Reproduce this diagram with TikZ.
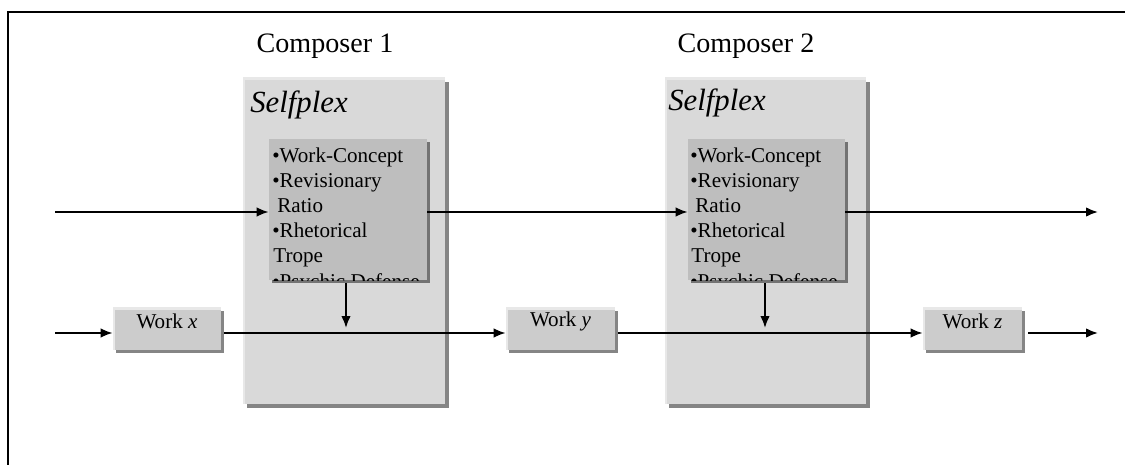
\documentclass[tikz,border=0pt]{standalone}
\usepackage{fontspec}
\setmainfont{Liberation Serif}
\usetikzlibrary{shadows,fit,arrows.meta}
\definecolor{outerfill}{HTML}{D9D9D9}
\definecolor{innerfill}{HTML}{BEBEBE}
\definecolor{workfill}{HTML}{CCCCCC}
\definecolor{shadowgray}{HTML}{858585}
\definecolor{innershadow}{HTML}{737373}
\definecolor{hilite}{HTML}{E8E8E8}
\begin{document}
\begin{tikzpicture}[x=0.02cm,y=-0.02cm,
  hl/.style={path picture={\draw[hilite,line width=2.4pt]
      (path picture bounding box.south west) -- (path picture bounding box.north west)
      -- (path picture bounding box.north east);}},
  outerbox/.style={fill=outerfill, inner sep=0pt, hl,
      drop shadow={shadow xshift=2pt, shadow yshift=-2pt, fill=shadowgray, opacity=1}},
  innerbox/.style={fill=innerfill, inner sep=0pt,
      drop shadow={shadow xshift=1.7pt, shadow yshift=-1.7pt, fill=innershadow, opacity=1}},
  workbox/.style={fill=workfill, inner sep=0pt, hl,
      font=\fontsize{12}{14}\selectfont, text height=8pt, text depth=0pt,
      drop shadow={shadow xshift=1.7pt, shadow yshift=-1.7pt, fill=shadowgray, opacity=1}},
  conn/.style={line width=1.05pt, -{Latex[length=6.8pt,width=5.4pt]}},
  itemtext/.style={anchor=base west, inner sep=0pt, font=\fontsize{12}{14}\selectfont},
  comptext/.style={anchor=base, inner sep=0pt, font=\fontsize{16}{19}\selectfont},
  selftext/.style={anchor=base west, inner sep=0pt, font=\fontsize{17.5}{21}\selectfont\itshape}
]
\useasboundingbox (0,0) rectangle (1125,465);
% frame
\draw[line width=1.1pt] (8,465) -- (8,12) -- (1125,12);

% composer titles
\node[comptext] (c1) at (325,53) {Composer 1};
\node[comptext] (c2) at (746,53) {Composer 2};

% outer selfplex boxes
\node[outerbox, fit={(243,78) (445,404)}] (o1) {};
\node[outerbox, fit={(665,78) (866,404)}] (o2) {};
\node[selftext] (s1) at (250,113) {Selfplex};
\node[selftext] (s2) at (668,111) {Selfplex};

% inner boxes
\node[innerbox, fit={(269,139) (427,280)}] (i1) {};
\node[innerbox, fit={(688,139) (845,280)}] (i2) {};

\foreach \bx/\x in {i1/272, i2/690} {
  \begin{scope}
    \clip (\bx.north west) rectangle (\bx.south east);
    \node[itemtext] (\bx-l1) at (\x,163) {•Work-Concept};
    \node[itemtext] (\bx-l2) at (\x,188) {•Revisionary};
    \node[itemtext] (\bx-l3) at (\x+5,213) {Ratio};
    \node[itemtext] (\bx-l4) at (\x,238) {•Rhetorical};
    \node[itemtext] (\bx-l5) at (\x+1,263) {Trope};
    \node[itemtext] (\bx-l6) at (\x,289) {•Psychic Defense};
  \end{scope}
}

% work boxes
\node[workbox, fit={(113,308) (221,350)}] (wx) {Work \textit{x}};
\node[workbox, fit={(506,308) (615,350)}] (wy) {Work \textit{y}};
\node[workbox, fit={(923,308) (1022,350)}] (wz) {Work \textit{z}};

% coordinates for free ends
\coordinate (tin) at (55,212);
\coordinate (tout) at (1098,212);
\coordinate (bin) at (55,333);
\coordinate (bout) at (1098,333);
\coordinate (v1) at (346,328);
\coordinate (v2) at (765,328);

% top line
\draw[conn] (tin) -- (tin -| i1.west);
\draw[conn] (i1.east |- tin) -- (i2.west |- tin);
\draw[conn] (i2.east |- tout) -- (tout);

% bottom line
\draw[conn] (bin) -- (bin -| wx.west);
\draw[conn] ([xshift=1.7pt]wx.east |- bin) -- (wy.west |- bin);
\draw[conn] ([xshift=1.7pt]wy.east |- bin) -- (wz.west |- bin);
\draw[conn] ([xshift=3.4pt]wz.east |- bout) -- (bout);

% vertical arrows
\draw[conn] ([yshift=-1.7pt]i1.south -| v1) -- (v1);
\draw[conn] ([yshift=-1.7pt]i2.south -| v2) -- (v2);
\end{tikzpicture}
\end{document}
